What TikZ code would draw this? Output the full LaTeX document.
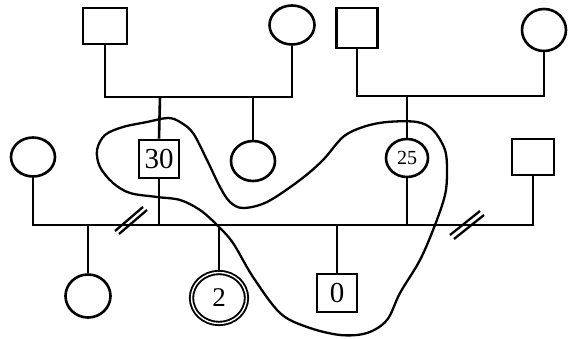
\documentclass[tikz,border=0pt]{standalone}
\usepackage{fontspec}
\setmainfont{Liberation Serif}
\usetikzlibrary{shapes.geometric}
\begin{document}
\begin{tikzpicture}[x=1pt,y=-1pt,
  line width=2.6pt,
  male/.style={draw, rectangle, inner sep=0pt, line width=2.6pt},
  female/.style={draw, ellipse, inner sep=0pt, line width=2.6pt},
  proband/.style={draw, ellipse, inner sep=0pt, double, double distance=1.4pt, line width=1.9pt},
  bigdigits/.style={font=\fontsize{29}{29}\selectfont},
  smalldigits/.style={font=\fontsize{20}{20}\selectfont},
  loop/.style={line width=2.3pt},
  divorce/.style={line width=2.3pt},
]
\useasboundingbox (0,0) rectangle (568,339);

% grandparents, left side
\node[male, minimum width=44pt, minimum height=36pt] (gf1) at (105,26) {};
\node[female, minimum width=45pt, minimum height=39pt] (gm1) at (292,25) {};
% grandparents, right side
\node[male, minimum width=41pt, minimum height=40pt] (gf2) at (357,28) {};
\node[female, minimum width=44pt, minimum height=42pt] (gm2) at (544,30) {};

% middle generation
\node[female, minimum width=44pt, minimum height=39pt] (lc) at (33,157) {};
\node[male, minimum width=40pt, minimum height=38pt, bigdigits] (n30) at (159,159) {30};
\node[female, minimum width=44pt, minimum height=40pt] (sib) at (253,161) {};
\node[female, minimum width=42pt, minimum height=38pt, smalldigits] (n25) at (407,158) {25};
\node[male, minimum width=42pt, minimum height=36pt] (rs) at (533,157) {};

% children
\node[female, minimum width=45pt, minimum height=43pt] (c1) at (88,296) {};
\node[proband, minimum width=55pt, minimum height=51pt, font=\fontsize{27}{27}\selectfont] (n2) at (219,298) {2};
\node[male, minimum width=40pt, minimum height=38pt, bigdigits] (n0) at (337,293) {0};

% sibship lines
\coordinate (m1) at (160,97);
\coordinate (m2) at (407,96);
\coordinate (m3) at (407,225);

\draw (gf1.south) |- (m1) -| (gm1.south);
\draw (m1) -- (n30.north);
\draw (m1 -| sib.north) -- (sib.north);

\draw (gf2.south) |- (m2) -| (gm2.south);
\draw (m2) -- (n25.north);

\draw (lc.south) |- (m3) -| (rs.south);
\draw (n30.south) -- (n30.south |- m3);
\draw (n25.south) -- (m3);
\draw (c1.north |- m3) -- (c1.north);
\draw (n2.north |- m3) -- (n2.north);
\draw (n0.north |- m3) -- (n0.north);

% divorce marks
\draw[divorce] (115,231) -- (143,207);
\draw[divorce] (119,234) -- (147,210);
\draw[divorce] (450,235) -- (480,211);
\draw[divorce] (454,239) -- (484,215);

% encircled group
\draw[loop] plot[smooth cycle, tension=0.55] coordinates {
  (168,118) (147,122) (123,127) (105,135) (97,150) (100,167) (113,183)
  (130,193) (157,197) (180,200) (200,210) (217,225) (233,243) (253,277)
  (280,313) (307,327) (340,335) (367,333) (387,320) (400,293) (420,260)
  (435,225) (445,195) (447,173) (445,150) (433,130) (417,122) (387,122)
  (363,127) (343,137) (323,160) (300,180) (267,202) (243,208) (230,202)
  (220,187) (207,160) (193,133) (180,122)};
\end{tikzpicture}
\end{document}
